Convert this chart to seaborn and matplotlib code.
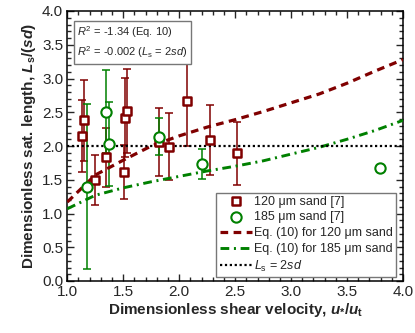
import matplotlib
matplotlib.use("Agg")
import matplotlib.pyplot as plt
import seaborn as sns
import numpy as np
import pandas as pd

# ---- data ----
x120 = [1.134, 1.149, 1.248, 1.349, 1.51, 1.516, 1.536, 1.82, 1.91, 2.067, 2.275, 2.52]
y120 = [2.15, 2.38, 1.49, 1.83, 1.61, 2.42, 2.52, 2.06, 1.99, 2.66, 2.09, 1.89]
e120 = [0.53, 0.60, 0.37, 0.44, 0.40, 0.59, 0.62, 0.51, 0.50, 0.66, 0.52, 0.47]

x185 = [1.179, 1.343, 1.373, 1.822, 2.20, 3.79]
y185 = [1.40, 2.51, 2.03, 2.14, 1.73, 1.67]
e185 = [1.22, 0.62, 0.62, 0.27, 0.22, 0.05]

xcurve = [1.0, 1.25, 1.5, 1.75, 2.0, 2.25, 2.5, 2.75, 3.0, 3.25, 3.5, 3.75, 4.0]
eq120 = [1.17, 1.57, 1.79, 2.00, 2.15, 2.28, 2.39, 2.51, 2.64, 2.77, 2.93, 3.11, 3.28]
eq185 = [1.07, 1.27, 1.38, 1.47, 1.55, 1.63, 1.70, 1.78, 1.88, 1.98, 2.10, 2.23, 2.38]
ls_const = [2.0, 2.0]
ls_x = [1.0, 4.0]

r2_lines = [r"$R^2$ = -1.34 (Eq. 10)", r"$R^2$ = -0.002 ($L_\mathrm{s}$ = 2$sd$)"]

RED = "#800000"
GREEN = "#008000"

sns.set_style("ticks")
plt.rcParams["font.family"] = ["Liberation Sans", "DejaVu Sans"]
plt.rcParams["mathtext.fontset"] = "custom"
plt.rcParams["mathtext.rm"] = "Liberation Sans"
plt.rcParams["mathtext.it"] = "Liberation Sans:italic"
plt.rcParams["mathtext.bf"] = "Liberation Sans:bold"
plt.rcParams["mathtext.bfit"] = "Liberation Sans:italic:bold"

fig = plt.figure(figsize=(4.15, 3.33), dpi=100)
ax = fig.add_axes([67.3/415, 52/333, 335.7/415, 270/333])

df120 = pd.DataFrame({"x": x120, "y": y120, "e": e120})
df185 = pd.DataFrame({"x": x185, "y": y185, "e": e185})
dc = pd.DataFrame({"x": xcurve, "r": eq120, "g": eq185})
dl = pd.DataFrame({"x": ls_x, "y": ls_const})

# error bars
ax.errorbar(df120["x"], df120["y"], yerr=df120["e"], fmt="none", ecolor=RED,
            elinewidth=1.1, capsize=3.2, capthick=1.1, zorder=2)
ax.errorbar(df185["x"], df185["y"], yerr=df185["e"], fmt="none", ecolor=GREEN,
            elinewidth=1.1, capsize=3.2, capthick=1.1, zorder=2)

# curves
sns.lineplot(data=dc, x="x", y="r", ax=ax, color=RED, lw=2.3,
             linestyle=(0, (2.4, 1.7)), label="Eq. (10) for 120 \u03bcm sand", zorder=3)
sns.lineplot(data=dc, x="x", y="g", ax=ax, color=GREEN, lw=2.1,
             linestyle=(0, (3.0, 1.6, 0.7, 1.6)), label="Eq. (10) for 185 \u03bcm sand", zorder=3)
sns.lineplot(data=dl, x="x", y="y", ax=ax, color="black", lw=1.6,
             linestyle=(0, (1, 1.2)), label=r"$L_\mathrm{s}$ = 2$sd$", zorder=3)

# markers
sns.scatterplot(data=df120, x="x", y="y", ax=ax, marker="s", s=28, facecolor="white",
                edgecolor=RED, linewidth=1.8, label="120 \u03bcm sand [7]", zorder=4)
sns.scatterplot(data=df185, x="x", y="y", ax=ax, marker="o", s=55, facecolor="white",
                edgecolor=GREEN, linewidth=1.5, label="185 \u03bcm sand [7]", zorder=5)

ax.set_xlim(1.0, 4.0)
ax.set_ylim(0.0, 4.0)
ax.set_xticks(np.arange(1.0, 4.01, 0.5))
ax.set_yticks(np.arange(0.0, 4.01, 0.5))
ax.set_xticklabels([f"{v:.1f}" for v in np.arange(1.0, 4.01, 0.5)])
ax.set_yticklabels([f"{v:.1f}" for v in np.arange(0.0, 4.01, 0.5)])
ax.xaxis.set_minor_locator(matplotlib.ticker.MultipleLocator(0.1))
ax.yaxis.set_minor_locator(matplotlib.ticker.MultipleLocator(0.1))
ax.tick_params(which="both", direction="in", top=True, right=True, labelsize=11, width=1.0)
ax.tick_params(which="major", length=5, pad=3)
ax.tick_params(which="minor", length=2.8)
for s in ax.spines.values():
    s.set_linewidth(1.1)
    s.set_color("black")

ax.set_xlabel(r"Dimensionless shear velocity, $\mathbfit{u}_\mathbf{*}$/$\mathbfit{u}_\mathbf{t}$",
              fontsize=11, fontweight="bold", labelpad=1)
ax.set_ylabel(r"Dimensionless sat. length, $\mathbfit{L}_\mathbf{s}$/($\mathbfit{sd}$)",
              fontsize=11, fontweight="bold", labelpad=3)

# R^2 box
ax.text(0.03, 0.95, "\n".join(r2_lines), transform=ax.transAxes, fontsize=8,
        va="top", ha="left", linespacing=1.35, zorder=10,
        bbox=dict(boxstyle="square,pad=0.3", facecolor="white", edgecolor="#777777", lw=1.0))

# legend
h, l = ax.get_legend_handles_labels()
order = [l.index("120 \u03bcm sand [7]"), l.index("185 \u03bcm sand [7]"),
         l.index("Eq. (10) for 120 \u03bcm sand"), l.index("Eq. (10) for 185 \u03bcm sand"),
         l.index(r"$L_\mathrm{s}$ = 2$sd$")]
leg = ax.legend([h[i] for i in order], [l[i] for i in order], loc="lower right",
                bbox_to_anchor=(0.979, 0.015), fontsize=9, frameon=True, fancybox=False,
                edgecolor="#777777", framealpha=1, handlelength=2.6, handletextpad=0.15,
                borderpad=0.25, labelspacing=0.3, borderaxespad=0)
leg.get_frame().set_linewidth(1.0)
leg.set_zorder(10)

fig.savefig("out.png", dpi=100)
